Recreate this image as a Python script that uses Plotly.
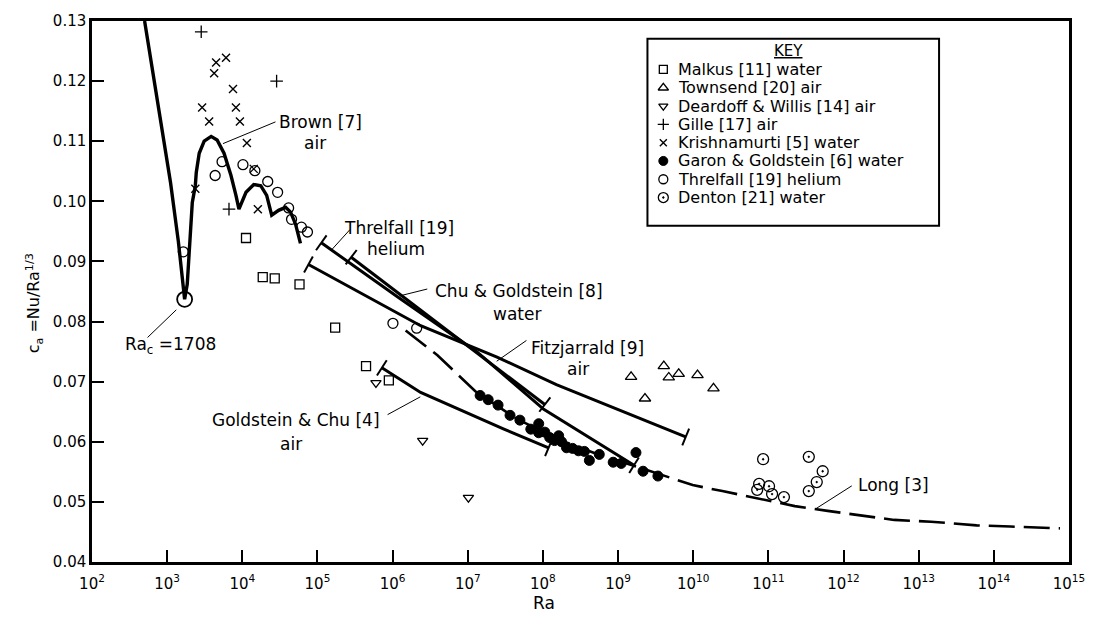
import math
import plotly.graph_objects as go

# ---------------- data ----------------
malkus_ra = [1.12e4, 1.87e4, 2.70e4, 5.77e4, 1.72e5, 4.43e5, 8.91e5]
malkus_c = [0.0939, 0.0874, 0.0872, 0.0862, 0.0790, 0.0726, 0.0702]

townsend_ra = [1.49e9, 2.28e9, 4.06e9, 4.73e9, 6.41e9, 1.14e10, 1.86e10]
townsend_c = [0.0708, 0.0672, 0.0726, 0.0707, 0.0713, 0.0711, 0.0689]

deardorff_ra = [6.0e5, 2.51e6, 1.02e7]
deardorff_c = [0.0698, 0.0602, 0.0507]

gille_ra = [2.84e3, 6.65e3, 2.86e4]
gille_c = [0.1282, 0.0987, 0.1200]

krish_ra = [4.48e3, 6.07e3, 4.22e3, 7.52e3, 2.92e3, 8.22e3, 3.62e3, 9.29e3,
            1.15e4, 2.37e3, 1.42e4, 1.61e4]
krish_c = [0.1231, 0.1239, 0.1213, 0.1187, 0.1156, 0.1156, 0.1133, 0.1133,
           0.1097, 0.1021, 0.1054, 0.0987]

garon_ra = [1.46e7, 1.87e7, 2.53e7, 3.65e7, 4.94e7, 8.79e7, 6.90e7, 8.79e7,
            1.06e8, 1.23e8, 1.62e8, 1.43e8, 1.77e8, 2.06e8, 2.48e8, 2.97e8,
            3.56e8, 4.15e8, 5.62e8, 8.61e8, 1.10e9, 1.73e9, 2.15e9, 3.39e9]
garon_c = [0.0677, 0.0670, 0.0661, 0.0644, 0.0636, 0.0630, 0.0621, 0.0615,
           0.0616, 0.0607, 0.0610, 0.0602, 0.0600, 0.0590, 0.0589, 0.0585,
           0.0584, 0.0569, 0.0579, 0.0566, 0.0564, 0.0582, 0.0551, 0.0543]

threlfall_ra = [1.64e3, 4.35e3, 5.38e3, 1.02e4, 1.47e4, 2.18e4, 2.95e4,
                4.13e4, 4.52e4, 6.12e4, 7.36e4, 1.01e6, 2.09e6]
threlfall_c = [0.0916, 0.1043, 0.1066, 0.1061, 0.1051, 0.1033, 0.1015,
               0.0989, 0.0970, 0.0957, 0.0949, 0.0797, 0.0789]

denton_ra = [8.51e10, 3.45e11, 5.28e11, 4.40e11, 3.45e11, 7.53e10, 7.10e10,
             1.02e11, 1.12e11, 1.61e11]
denton_c = [0.0571, 0.0575, 0.0551, 0.0533, 0.0518, 0.0530, 0.0520,
            0.0526, 0.0513, 0.0508]

# correlation curves
brown_ra = [5.01e2, 7.91e2, 1.11e3, 1.41e3, 1.64e3, 1.708e3, 1.85e3, 1.97e3,
            2.16e3, 2.37e3, 2.44e3, 2.67e3, 3.11e3, 3.85e3, 4.62e3, 5.71e3,
            7.07e3, 8.23e3, 9.02e3, 1.12e4, 1.42e4, 1.76e4, 2.11e4, 2.46e4,
            3.04e4, 3.77e4, 4.39e4, 5.11e4, 5.94e4]
brown_c = [0.1300, 0.1146, 0.1031, 0.0933, 0.0859, 0.0837, 0.0862, 0.0916,
           0.0998, 0.1026, 0.1048, 0.1080, 0.1100, 0.1108, 0.1102, 0.1080,
           0.1043, 0.1010, 0.0987, 0.1015, 0.1028, 0.1026, 0.1010, 0.0977,
           0.0985, 0.0990, 0.0982, 0.0962, 0.0930]

thr_line_ra = [1.125e5, 1.17e6, 1.34e7, 1.026e8, 1.63e9]
thr_line_c = [0.0931, 0.0841, 0.0749, 0.0654, 0.0561]

chu_ra = [2.81e5, 1.06e8]
chu_c = [0.0907, 0.0662]

fitz_ra = [7.59e4, 2.36e6, 2.45e7, 1.51e8, 7.94e9]
fitz_c = [0.0895, 0.0793, 0.0741, 0.0695, 0.0608]

gc_ra = [7.19e5, 2.36e6, 3.03e7, 1.19e8]
gc_c = [0.0723, 0.0682, 0.0621, 0.0590]

long_ra = [1.49e6, 3.95e6, 1.26e7, 4.51e7, 1.52e8, 5.14e8, 1.73e9, 3.94e9,
           9.82e9, 2.44e10, 6.28e10, 2.25e11, 6.15e11, 1.73e12, 4.72e12,
           1.46e13, 5.89e13, 1.66e14, 7.59e14]
long_c = [0.0785, 0.0744, 0.0684, 0.0638, 0.0605, 0.0580, 0.0559, 0.0544,
          0.0528, 0.0518, 0.0507, 0.0493, 0.0485, 0.0477, 0.0470, 0.0467,
          0.0461, 0.0459, 0.0456]

ra_crit = [1708]
c_crit = [0.0837]

x_exponents = list(range(2, 16))
x_tickvals = [10.0 ** k for k in x_exponents]
x_ticktext = ["10<sup>%d</sup>" % k for k in x_exponents]
y_tickvals = [0.04, 0.05, 0.06, 0.07, 0.08, 0.09, 0.10, 0.11, 0.12, 0.13]

legend_labels = ["Malkus [11] water", "Townsend [20] air",
                 "Deardoff & Willis [14] air", "Gille [17] air",
                 "Krishnamurti [5] water", "Garon & Goldstein [6] water",
                 "Threlfall [19] helium", "Denton [21] water"]

# ---------------- layout geometry ----------------
W, H = 1097, 623
L, R, T, B = 92, 20, 15, 61
PW, PH = W - L - R, H - T - B
XR = (2, 15)
YR = (0.04, 0.13)
FONT = "DejaVu Sans"


def pxp(x):
    return (x - L) / PW


def pyp(y):
    return (H - B - y) / PH


def screen_angle(ra1, c1, ra2, c2):
    dx = (math.log10(ra2) - math.log10(ra1)) * PW / (XR[1] - XR[0])
    dy = -(c2 - c1) * PH / (YR[1] - YR[0])
    return math.degrees(math.atan2(dy, dx))


fig = go.Figure()

sym_styles = [
    ("square-open", 9, 1.3),
    ("triangle-up-open", 10, 1.3),
    ("triangle-down-open", 9, 1.3),
    ("cross-thin-open", 9, 1.3),
    ("x-thin-open", 8, 1.4),
    ("circle", 10, 1),
    ("circle-open", 10, 1.3),
    ("circle-open-dot", 11, 1.3),
]
series = [(malkus_ra, malkus_c), (townsend_ra, townsend_c),
          (deardorff_ra, deardorff_c), (gille_ra, gille_c),
          (krish_ra, krish_c), (garon_ra, garon_c),
          (threlfall_ra, threlfall_c), (denton_ra, denton_c)]

# lines
fig.add_trace(go.Scatter(x=brown_ra, y=brown_c, mode="lines",
                         line=dict(color="black", width=3.4), showlegend=False))
for xs, ys in [(thr_line_ra, thr_line_c), (chu_ra, chu_c),
               (fitz_ra, fitz_c), (gc_ra, gc_c)]:
    fig.add_trace(go.Scatter(x=xs, y=ys, mode="lines",
                             line=dict(color="black", width=3), showlegend=False))
    a0 = screen_angle(xs[0], ys[0], xs[1], ys[1])
    a1 = screen_angle(xs[-2], ys[-2], xs[-1], ys[-1])
    fig.add_trace(go.Scatter(x=[xs[0], xs[-1]], y=[ys[0], ys[-1]], mode="markers",
                             marker=dict(symbol="line-ns-open", size=13, angle=[a0, a1],
                                         color="black",
                                         line=dict(color="black", width=2)),
                             showlegend=False))
fig.add_trace(go.Scatter(x=long_ra, y=long_c, mode="lines",
                         line=dict(color="black", width=2.6, dash="26px,9px"),
                         showlegend=False))

# critical point circle
fig.add_trace(go.Scatter(x=ra_crit, y=c_crit, mode="markers",
                         marker=dict(symbol="circle-open", size=15, color="black",
                                     line=dict(color="black", width=1.8)),
                         showlegend=False))

# data points
for (xs, ys), (sym, sz, lw) in zip(series, sym_styles):
    fig.add_trace(go.Scatter(x=xs, y=ys, mode="markers",
                             marker=dict(symbol=sym, size=sz, color="black",
                                         line=dict(color="black", width=lw)),
                             showlegend=False, cliponaxis=False))

# ---------------- key (legend) on a pixel overlay axis ----------------
key_left, key_right, key_top, key_bottom = 652, 946, 33, 222
key_sym_x = 668
key_text_x = 681
key_row0, key_row_step = 64, 18.5
for i, ((sym, sz, lw), lab) in enumerate(zip(sym_styles, legend_labels)):
    yrow = key_row0 + i * key_row_step
    fig.add_trace(go.Scatter(x=[key_sym_x], y=[yrow], mode="markers",
                             xaxis="x2", yaxis="y2",
                             marker=dict(symbol=sym, size=sz - 1, color="black",
                                         line=dict(color="black", width=lw)),
                             showlegend=False))
    fig.add_annotation(x=pxp(key_text_x), y=pyp(yrow), xref="paper", yref="paper",
                       text=lab, showarrow=False, xanchor="left", yanchor="middle",
                       font=dict(family=FONT, size=16, color="black"))
fig.add_annotation(x=pxp((key_left + key_right) / 2 - 5), y=pyp(45), xref="paper",
                   yref="paper", text="<u>KEY</u>", showarrow=False,
                   xanchor="center", yanchor="middle",
                   font=dict(family=FONT, size=15, color="black"))
fig.add_shape(type="rect", xref="paper", yref="paper",
              x0=pxp(key_left), x1=pxp(key_right), y0=pyp(key_bottom), y1=pyp(key_top),
              line=dict(color="black", width=2), fillcolor="rgba(0,0,0,0)")

# ---------------- curve labels ----------------
labels = [
    ("Brown [7]", 322, 117), ("air", 317, 138),
    ("Threlfall [19]", 402, 224), ("helium", 398, 246),
    ("Chu & Goldstein [8]", 522, 288), ("water", 520, 311),
    ("Fitzjarrald [9]", 592, 346), ("air", 582, 367),
    ("Goldstein & Chu [4]", 298, 418), ("air", 293, 443),
    ("Long [3]", 900, 484),
    ("Ra<sub>c</sub> =1708", 171, 343),
]
for txt, x, y in labels:
    fig.add_annotation(x=pxp(x), y=pyp(y), xref="paper", yref="paper", text=txt,
                       showarrow=False, xanchor="center", yanchor="middle",
                       font=dict(family=FONT, size=17, color="black"))

leaders = [((224, 139), (277, 117)), ((333, 247), (352, 226)),
           ((402, 293), (430, 286)), ((500, 359), (530, 338)),
           ((390, 413), (423, 395)), ((822, 508), (858, 485)),
           ((148, 335), (177, 307))]
for (x0, y0), (x1, y1) in leaders:
    fig.add_shape(type="line", xref="paper", yref="paper",
                  x0=pxp(x0), y0=pyp(y0), x1=pxp(x1), y1=pyp(y1),
                  line=dict(color="black", width=1))

# axis titles
fig.add_annotation(x=pxp(548), y=pyp(603), xref="paper", yref="paper", text="Ra",
                   showarrow=False, xanchor="center", yanchor="middle",
                   font=dict(family=FONT, size=17, color="black"))
fig.add_annotation(x=pxp(34), y=pyp(300), xref="paper", yref="paper",
                   text="c<sub>a</sub> =Nu/Ra<sup>1/3</sup>", textangle=-90,
                   showarrow=False, xanchor="center", yanchor="middle",
                   font=dict(family=FONT, size=16, color="black"))

axis_common = dict(ticks="inside", ticklen=12, tickwidth=1.5, tickcolor="black",
                   showline=True, linecolor="black", linewidth=2.5, mirror=True,
                   showgrid=False, zeroline=False,
                   tickfont=dict(family=FONT, size=15, color="black"))

fig.update_layout(
    width=W, height=H,
    margin=dict(l=L, r=R, t=T, b=B),
    paper_bgcolor="white", plot_bgcolor="white",
    showlegend=False,
    xaxis=dict(type="log", range=list(XR), tickvals=x_tickvals, ticktext=x_ticktext,
               ticklabelstandoff=6, **axis_common),
    yaxis=dict(range=list(YR), tickvals=y_tickvals, tickformat=".2f", **axis_common),
    xaxis2=dict(range=[L, W - R], overlaying="x", visible=False, anchor="y2"),
    yaxis2=dict(range=[H - B, T], overlaying="y", visible=False, anchor="x2"),
)

fig.write_html("out.html")
